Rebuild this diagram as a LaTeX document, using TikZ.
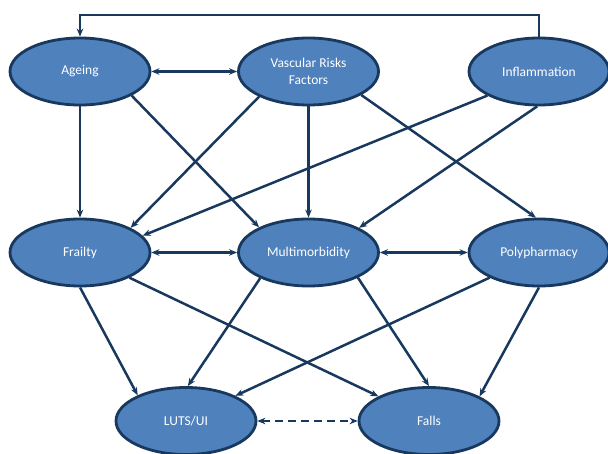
\documentclass[tikz,border=0pt]{standalone}
\usepackage{fontspec}
\setmainfont{Carlito}
\usetikzlibrary{arrows.meta,shapes.geometric}
\definecolor{ovalblue}{RGB}{79,129,189}
\definecolor{linenavy}{RGB}{24,56,94}

\begin{document}
\begin{tikzpicture}[x=1pt,y=-1pt]
        \tikzstyle{every node} = [ellipse, draw=linenavy, line width=2.8pt, fill=ovalblue, minimum width=140pt, minimum height=67pt, text=white, font=\fontsize{13.5}{17}\selectfont, align=center]
        \tikzstyle{link} = [linenavy, line width=2.5pt, >={Stealth[length=8pt,width=6.5pt]}, ->]
        \useasboundingbox (0,0) rectangle (608,454);

        \node (age) at (80,71.5) {Ageing};
        \node (vrf) at (308.5,71.5) {Vascular Risks\\Factors};
        \node (inf) at (539,71.5) {Inflammation};
        \node (fra) at (80,252.5) {Frailty};
        \node (mul) at (308.5,252.5) {Multimorbidity};
        \node (pol) at (539,252.5) {Polypharmacy};
        \node (luts) at (186,421) {LUTS/UI};
        \node (fal) at (429,421) {Falls};
        \coordinate (top) at (0,15);

        \draw[link] (inf.north) -- (inf.north |- top) -| (age.north);

        \foreach \from/\to in {age/fra, vrf/mul, age.335/mul.153, vrf.207/fra.26, vrf.336/pol.95,
                               inf.205/fra.15, inf.267/mul.26, fra.270/luts.152, fra.333/fal.154,
                               mul.208/luts.87, mul.333/fal.90, pol.207/luts.27, pol.270/fal.26}
            \draw[link] (\from) -- (\to);

        \foreach \from/\to in {age/vrf, fra/mul, mul/pol}
            \draw[link,<->] (\from) -- (\to);
        \draw[link,<->,dash pattern=on 8pt off 5pt] (luts) -- (fal);
\end{tikzpicture}
\end{document}
